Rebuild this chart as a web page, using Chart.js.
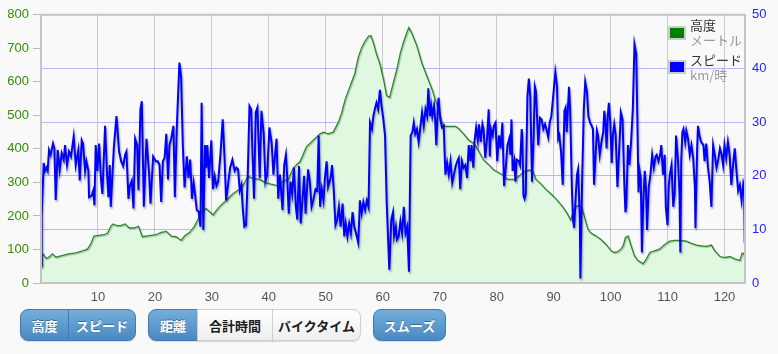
<!DOCTYPE html>
<html><head><meta charset="utf-8">
<script src="https://cdn.jsdelivr.net/npm/chart.js@4"></script>
<style>
html,body{margin:0;padding:0;background:#f9f9f9;width:778px;height:354px;overflow:hidden;}
#wrap{position:absolute;left:0;top:0;width:778px;height:305px;}
.b{position:absolute;top:309px;height:32px;box-sizing:border-box;display:flex;align-items:center;justify-content:center;font:bold 13px "Noto Sans CJK JP",sans-serif;box-shadow:0 1px 1px rgba(0,0,0,.12);}
.blue{background:linear-gradient(#72aedd,#4a89c1);color:#fff;border:1px solid #3d7cb2;text-shadow:0 -1px 0 rgba(0,0,0,.35);}
.white{background:linear-gradient(#ffffff,#eeeeee);color:#1a1a1a;border:1px solid #cfcfcf;}
</style></head><body>
<div id="wrap"><canvas id="c" width="778" height="305"></canvas></div>
<div class="b blue" style="left:20px;width:49px;border-radius:8px 0 0 8px;">高度</div>
<div class="b blue" style="left:68px;width:68px;border-radius:0 8px 8px 0;">スピード</div>
<div class="b blue" style="left:148px;width:50px;border-radius:8px 0 0 8px;">距離</div>
<div class="b white" style="left:197px;width:76px;">合計時間</div>
<div class="b white" style="left:272px;width:89px;border-radius:0 8px 8px 0;">バイクタイム</div>
<div class="b blue" style="left:373px;width:73px;border-radius:8px;">スムーズ</div>
<script>
// Elevation (km, metres)
const elevKm = [0,0.15,0.4,0.9,1.4,2.0,2.6,3.5,4.9,6.1,7.3,8.15,8.7,9.3,10.2,11.1,11.7,12.25,12.65,13.25,14.0,14.75,15.5,16.35,17.1,17.8,19.0,20.2,21.1,22.0,22.85,23.7,24.6,25.2,26.1,26.95,27.5,28.1,29.0,30.2,31.3,32.5,33.7,34.9,35.7,36.3,37.2,38.4,39.3,40.4,41.65,42.5,43.4,44.3,45.5,46.6,47.8,49.0,49.6,50.4,51.3,52.2,52.8,53.4,54.25,55.1,55.7,56.3,56.9,57.5,57.9,58.35,58.9,59.5,60.1,60.7,61.2,61.9,62.5,63.1,63.7,64.3,64.6,65.2,66.0,66.9,67.8,68.7,69.5,70.4,71.0,71.9,72.8,73.35,74.2,75.1,76.0,76.9,77.7,78.6,79.5,80.4,81.3,81.9,83.1,83.95,84.8,85.7,86.3,86.9,87.8,88.6,89.5,90.4,91.6,92.4,93.0,93.6,94.3,94.9,95.4,96.0,96.55,97.45,98.3,99.2,100.1,100.65,101.2,101.8,102.2,102.6,103.05,103.6,104.2,104.8,105.7,106.3,106.9,107.7,108.6,109.5,110.4,111.25,112.4,113.3,114.2,115.1,115.9,116.8,117.7,118.3,119.2,120.0,120.9,121.8,122.7,123.1,123.45,123.6];
const elevM = [47,80,86,73,77,87,77,81,87,90,96,101,115,140,142,144,149,169,176,171,171,176,164,164,169,138,141,144,151,154,140,138,127,140,151,169,188,212,222,203,227,246,266,280,297,319,312,309,300,295,290,305,309,343,363,406,426,445,450,445,450,479,508,547,586,625,673,702,721,736,738,717,683,654,610,558,553,600,639,687,721,750,762,741,707,654,615,576,532,479,467,467,467,460,445,426,416,392,367,353,337,329,319,309,309,319,332,337,334,309,295,280,266,251,227,207,188,222,232,227,198,161,149,140,130,115,96,91,93,101,110,135,140,111,81,67,57,72,91,96,101,115,125,127,127,125,118,113,111,109,113,96,79,76,79,72,67,89,87,67];

// Speed (km, km/h)
const spdKm = [0,0.12,0.47,0.7,0.94,1.17,1.41,1.7,2.11,2.35,2.58,2.93,3.28,3.63,3.99,4.22,4.57,4.92,5.27,5.74,6.1,6.56,6.8,7.15,7.38,7.74,7.97,8.32,8.44,8.91,9.2,9.38,9.61,9.9,10.2,10.55,10.78,11.25,11.6,11.84,12.07,12.25,12.78,13.25,13.71,14.07,14.42,14.77,15.0,15.35,15.59,15.94,16.23,16.53,16.88,17.11,17.46,17.7,18.05,18.52,18.99,19.22,19.69,20.16,
 20.5,20.8,21.1,21.4,21.7,22.0,22.3,22.55,22.85,23.25,23.5,23.85,24.3,24.6,24.9,25.2,25.6,25.9,26.2,26.5,26.8,27.1,27.35,27.7,28.0,28.2,28.5,28.8,29.0,29.2,29.5,29.9,30.2,30.5,30.8,31.1,31.5,31.9,32.2,32.5,32.9,33.2,33.6,34.0,34.3,34.6,34.9,35.2,35.4,35.7,36.0,36.3,36.6,36.9,37.1,37.4,37.7,38.0,38.4,38.7,39.1,39.4,39.7,40.1,40.5,
 40.8,41.1,41.36,41.65,41.94,42.2,42.4,42.7,43.0,43.2,43.5,43.8,44.1,44.4,44.75,45.0,45.3,45.6,45.9,46.2,46.45,46.9,47.2,47.5,47.8,48.2,48.5,48.75,49.0,49.3,49.6,49.85,50.15,50.4,50.85,51.1,51.4,51.7,52.0,52.3,52.6,52.95,53.25,53.5,53.8,54.1,54.4,54.7,55.0,55.3,55.7,56.0,56.3,56.6,56.9,57.2,57.5,57.77,58.1,58.35,58.6,58.9,59.2,59.5,59.8,60.1,60.4,60.7,61.15,61.5,
 61.8,62.0,62.3,62.5,62.8,63.1,63.4,63.7,64.0,64.3,64.6,64.9,65.2,65.45,65.7,66.0,66.3,66.6,66.9,67.2,67.5,67.8,68.0,68.3,68.5,68.7,69.0,69.2,69.4,69.7,69.8,70.1,70.4,70.7,71.0,71.3,71.6,71.9,72.2,72.5,72.8,73.1,73.35,73.6,73.9,74.2,74.5,74.8,75.1,75.4,75.6,75.9,76.1,76.4,76.7,76.9,77.2,77.5,77.7,78.0,78.3,78.6,78.8,79.0,79.3,79.5,79.8,80.1,80.4,80.7,81.0,81.3,81.6,
 81.9,82.2,82.4,82.6,82.8,83.1,83.3,83.5,83.9,84.1,84.4,84.5,84.7,84.9,85.1,85.4,85.65,85.9,86.2,86.5,86.7,86.9,87.3,87.6,87.9,88.2,88.5,88.8,89.05,89.3,89.6,90.0,90.3,90.6,90.8,91.0,91.3,91.6,91.9,92.1,92.3,92.7,92.9,93.2,93.4,93.6,93.9,94.1,94.3,94.6,94.7,95.0,95.3,95.55,95.85,96.1,96.4,96.7,96.9,97.1,97.4,97.6,97.8,98.1,98.4,98.7,98.9,99.1,99.3,99.5,99.7,99.95,100.2,100.4,100.65,100.9,101.2,101.6,101.8,102.1,102.4,102.6,
 102.75,103.05,103.3,103.6,103.9,104.2,104.5,104.7,104.9,105.1,105.3,105.5,105.75,106.0,106.2,106.4,106.7,107.0,107.3,107.6,107.9,108.1,108.4,108.7,108.9,109.2,109.5,109.7,110.0,110.2,110.4,110.7,111.0,111.25,111.5,111.85,112.1,112.25,112.4,112.6,112.8,113.1,113.3,113.6,113.9,114.2,114.5,114.8,114.9,115.2,115.35,115.6,115.9,116.3,116.5,116.8,117.1,117.4,117.7,118.0,118.3,118.6,118.9,119.2,119.5,119.75,120.0,120.3,120.6,120.9,121.2,121.5,121.8,122.1,122.4,122.7,123.0,123.3,123.45,123.55];
const spdVal = [3.3,12.4,22.4,20.9,21.5,20.9,24.8,23.9,26,25.1,15.5,24.8,21.1,24.2,23,25.7,22,24.5,23.6,27.3,22,24.8,19.1,26.6,26,20.9,22.7,20.9,16,16.3,17.3,14.5,25.7,20.9,26,19.1,16.6,29.3,20.2,16,22,14.2,25.1,31.1,24.5,22.7,21.8,23.9,24.5,15.7,18.1,19.1,13.9,26.9,25.7,17.3,32.4,33.9,14.2,26.9,20.2,14.8,23.6,22.7,
 22.7,22.1,15.1,22.7,23.3,27.8,19.3,25.7,26.9,29.3,16,29.3,41.1,38.4,25.7,17.8,23.6,19.6,23,15.7,18.7,16,13.6,13.3,10.5,33.6,9.9,25.7,21.5,25.7,19.6,26.6,17.5,19.9,18.1,18.9,23.9,30.5,23.9,15.4,18.9,21.5,23,20.9,21.5,21.2,17.2,18.3,14.2,10.5,10.8,20.2,33,32.4,25.1,15.7,31.8,32.7,19.6,32.1,27.8,18.9,20.2,29.0,26,
 20.2,23.9,26.9,15.7,20.2,16.6,13.6,22,23.9,20.2,12.9,18.9,16.6,21.5,14.2,11.8,21.8,11.1,15.4,20.0,12.9,21.2,18.9,14.2,15.4,17.5,17.2,27.5,14.2,17.5,15.4,19.6,22.7,17.9,19.6,22.0,17.2,10.8,11.8,14.2,10.5,14.8,8.7,11.1,8.7,11.1,9.3,13.2,10.5,9.3,7.5,15.4,13.0,15.1,13.6,15.4,14.2,29.9,28.7,31.1,32.4,33.6,32.4,36,33,30.5,27.5,14.8,2.5,11.8,
 13.2,8.7,10.5,8.1,8.7,11.5,9.3,14.2,9.3,10.5,2.1,27.5,28.1,29.9,27.8,28.7,26.3,29.0,31.8,29.3,32.4,31.1,36.3,31.1,33.0,31.1,33,30.5,25.7,33.3,34.5,30.5,29,29.3,20.2,22.4,20.2,22.7,18.7,20.2,21.8,22.7,23.3,17.5,22.7,21.5,22,19.6,25.7,22.7,25.7,21.5,26.3,29.0,26.6,29.6,26.3,29.6,28.7,23.3,26.9,32.4,23.6,28.7,27.5,29.3,29.9,22.7,27.5,25.1,29.9,18.1,21.5,
 25.7,26.9,23.9,30.5,20.9,22.7,18.9,23,22.7,22,28.7,27.5,16.3,15.7,16.6,34.8,38.1,34.8,18.9,27.5,36.6,35.7,25.7,30.8,30.5,28.7,29.6,28.4,27.2,29.9,31.1,35.7,39.3,36.6,26.9,27.5,24.5,18.3,32.1,32.7,28.1,36.6,32.4,17.9,11.8,10.3,16.6,20.2,21.2,11.8,0.85,18.9,32.4,37.5,35.7,31.1,29.9,29.3,28.7,18.3,24.5,28.4,27.5,23.9,26.3,28.1,32.1,29.9,25.1,31.1,33.6,29.9,22.4,27.5,29.6,27.5,17.9,26.9,31.8,30.5,18.9,13.2,
 14.2,25.7,22,26.3,32.4,44.5,42.7,30.5,16.9,20.9,19.6,5.7,15.4,20.9,17.9,9.9,17.9,20.2,23.9,21.5,23.6,23.9,22.7,23.9,25.7,20.2,23.9,14.2,10.8,17.9,20.2,22,14.2,16.6,27.5,22.7,16.6,5.7,22.7,28.1,28.7,26.3,28.4,26.9,23.9,25.7,23.3,17.9,10.2,25.1,29.3,27.5,26.3,25.7,22.7,26,21.5,18.9,14.2,25.7,23.9,21.5,23,25.1,23.9,22,25.7,23.3,26.3,23.9,18.3,22,25.1,20.9,17.2,18.3,15.4,18.6,17.9,7.5];

const xMax = 123.6;
const elevTicks = {min:0, max:800, step:100};
const spdTicks = {min:0, max:50, step:10};
const xStep = 10;
const legendTitles = ['高度','スピード'];
const legendUnits = ['メートル','km/時'];
const legendColors = ['#008000','#0000ff'];

const elevData = elevKm.map((k,i)=>({x:k,y:elevM[i]}));
const spdData = spdKm.map((k,i)=>({x:k,y:spdVal[i]}));

const tickFont = {family:'"Liberation Sans", Arial, sans-serif', size:13};

const framePlugin = {id:'frame', afterDatasetsDraw(chart){
  const c=chart.ctx, a=chart.chartArea;
  c.save(); c.strokeStyle='#c4c4c4'; c.lineWidth=2;
  c.strokeRect(a.left, a.top, a.right-a.left, a.bottom-a.top); c.restore();
}};
const shadowPlugin = {id:'shadow',
  beforeDatasetDraw(chart,args){
    const c=chart.ctx; c.save();
    if(args.index===1){c.shadowColor='rgba(0,0,0,0.35)';c.shadowBlur=2;c.shadowOffsetX=1;c.shadowOffsetY=2;}
    else {c.shadowColor='rgba(0,0,0,0.25)';c.shadowBlur=1;c.shadowOffsetX=1;c.shadowOffsetY=1;}
  },
  afterDatasetDraw(chart){chart.ctx.restore();}
};
const legendPlugin = {id:'lg', afterDraw(chart){
  const c=chart.ctx, a=chart.chartArea, x0=a.right-77;
  c.save();
  const boxY=[26,60], t1=[25,60], t2=[40,75];
  for(let i=0;i<2;i++){
    c.fillStyle='#cccccc'; c.fillRect(x0,boxY[i],18,14);
    c.fillStyle=legendColors[i]; c.fillRect(x0+2,boxY[i]+2,14,10);
    c.font='13px "Noto Sans CJK JP", sans-serif'; c.textAlign='left'; c.textBaseline='middle';
    c.fillStyle='#333333'; c.fillText(legendTitles[i], x0+22, t1[i]);
    c.fillStyle='#999999'; c.fillText(legendUnits[i], x0+22, t2[i]);
  }
  c.restore();
}};

new Chart(document.getElementById('c'), {
  type:'line',
  data:{datasets:[
    {label:legendTitles[0], data:elevData, yAxisID:'y', borderColor:'#2a8a2a', borderWidth:1.3, backgroundColor:'#e0f8e0', fill:'origin', pointRadius:0, tension:0, order:2},
    {label:legendTitles[1], data:spdData, yAxisID:'y1', borderColor:'#0000ff', borderWidth:2, pointRadius:0, tension:0, fill:false, order:1}
  ]},
  options:{
    responsive:false, animation:false, devicePixelRatio:1,
    layout:{padding:{top:0,left:0,right:0,bottom:0}},
    plugins:{legend:{display:false}, tooltip:{enabled:false}, filler:{drawTime:'beforeDatasetsDraw'}},
    events:[],
    scales:{
      x:{type:'linear', min:0, max:xMax, afterFit(s){s.height=22;},
        border:{display:false}, grid:{color:'#cacaca', drawTicks:false},
        ticks:{stepSize:xStep, includeBounds:false, color:'#555', font:tickFont, padding:7, maxRotation:0, autoSkip:false, callback:v=>v===0?'':v}},
      y:{position:'left', min:elevTicks.min, max:elevTicks.max, afterFit(s){s.width=41;},
        border:{display:false}, grid:{drawOnChartArea:false, drawTicks:true, tickLength:8, color:'#b8b8b8'},
        ticks:{stepSize:elevTicks.step, color:'#2f8f00', font:tickFont, padding:4}},
      y1:{position:'right', min:spdTicks.min, max:spdTicks.max, afterFit(s){s.width=33;},
        border:{display:false}, grid:{color:'#b6b6ff', drawTicks:false},
        ticks:{stepSize:spdTicks.step, color:'#2222ff', font:tickFont, padding:7}}
    }
  },
  plugins:[shadowPlugin, framePlugin, legendPlugin]
});
</script>
</body></html>
